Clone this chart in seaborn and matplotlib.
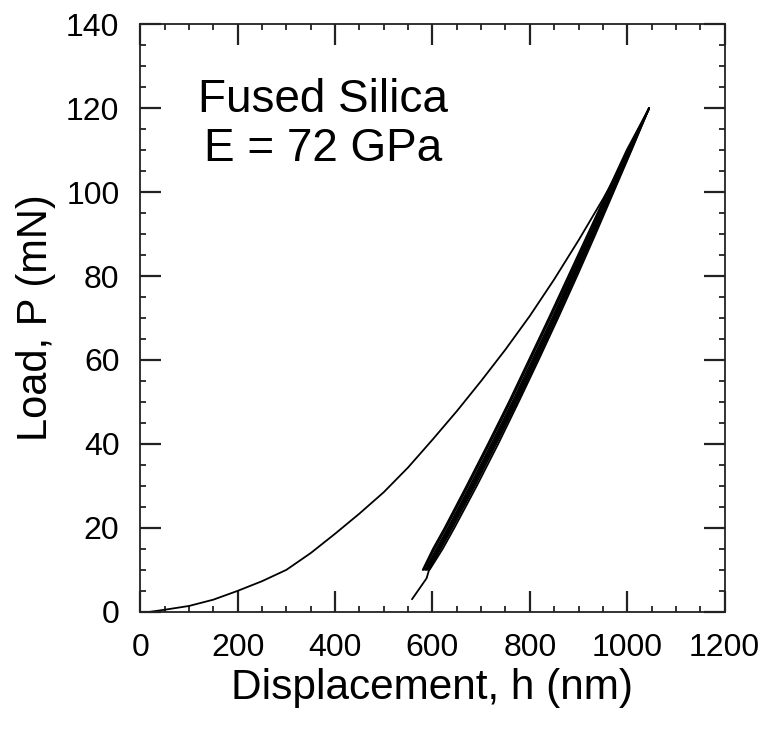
import matplotlib
matplotlib.use("Agg")
import matplotlib.pyplot as plt
from matplotlib.ticker import MultipleLocator
import numpy as np
import pandas as pd
import seaborn as sns

# loading curve
load_h = [20, 50, 100, 150, 200, 250, 300, 350, 400, 450, 500, 550, 600,
          650, 700, 750, 800, 850, 900, 950, 1000, 1045]
load_P = [0.0, 0.5, 1.4, 2.9, 5.0, 7.3, 10.0, 14.0, 18.6, 23.4, 28.5, 34.4,
          41.0, 47.8, 55.0, 62.5, 70.5, 79.2, 88.5, 98.3, 108.8, 120.0]

# unload / reload cycles
cycle_P = [120, 110, 100, 90, 80, 70, 60, 50, 40, 30, 20, 15, 10]
cycle_h_a = [1045, 999, 959, 919, 879, 839, 798, 757, 714, 670, 625, 601, 580]
cycle_h_b = [1045, 1001, 961, 922, 882, 842, 801, 760, 717, 673, 628, 604, 582]
cycle_h_c = [1045, 1003, 964, 925, 885, 846, 805, 764, 721, 677, 632, 608, 585]
cycle_h_d = [1045, 1005, 966, 927, 888, 849, 808, 767, 724, 680, 635, 611, 587]
cycle_h_e = [1045, 1006, 968, 930, 891, 852, 812, 771, 728, 684, 638, 614, 589]
cycle_h_f = [1045, 1008, 970, 932, 894, 855, 815, 774, 731, 687, 641, 617, 592]
cycle_h_g = [1045, 1009, 972, 935, 897, 858, 818, 777, 735, 691, 645, 621, 594]

# final unload
final_P = [120, 110, 100, 90, 80, 70, 60, 50, 40, 30, 20, 15, 10, 8, 3]
final_h = [1045, 1005, 967, 928, 889, 850, 810, 769, 726, 682, 636, 612, 593, 588, 558]

sns.set_style("ticks")
plt.rcParams['font.family'] = ['Liberation Sans', 'DejaVu Sans']
plt.rcParams['text.color'] = 'black'
plt.rcParams['axes.labelcolor'] = 'black'

fig = plt.figure(figsize=(7.75, 7.31), dpi=100)
ax = fig.add_axes([0.181, 0.163, 0.754, 0.804])

lw = 1.3
sns.lineplot(x=load_h, y=load_P, sort=False, color='black', lw=lw, ax=ax)
for hh in [cycle_h_a, cycle_h_b, cycle_h_c, cycle_h_d,
           cycle_h_e, cycle_h_f, cycle_h_g]:
    sns.lineplot(x=hh, y=cycle_P, sort=False, color='black', lw=lw, ax=ax)
sns.lineplot(x=final_h, y=final_P, sort=False, color='black', lw=lw, ax=ax)

ax.set_xlim(0, 1200)
ax.set_ylim(0, 140)
ax.xaxis.set_major_locator(MultipleLocator(200))
ax.xaxis.set_minor_locator(MultipleLocator(50))
ax.yaxis.set_major_locator(MultipleLocator(20))
ax.yaxis.set_minor_locator(MultipleLocator(5))
ax.tick_params(axis='both', which='major', direction='in', top=True, right=True,
               length=15, width=1.6, color='#222222', labelcolor='black',
               labelsize=23, pad=15)
ax.tick_params(axis='both', which='minor', direction='in', top=True, right=True,
               length=4.5, width=1.3, color='#222222')
for s in ax.spines.values():
    s.set_visible(True)
    s.set_linewidth(1.3)
    s.set_color('#222222')

ax.set_xlabel('Displacement, h (nm)', fontsize=30.5, labelpad=4)
ax.set_ylabel('Load, P (mN)', fontsize=30, labelpad=7)

ax.text(375, 116, 'Fused Silica\nE = 72 GPa', ha='center', va='center',
        fontsize=33, linespacing=1.15)

plt.savefig('out.png', dpi=100)
